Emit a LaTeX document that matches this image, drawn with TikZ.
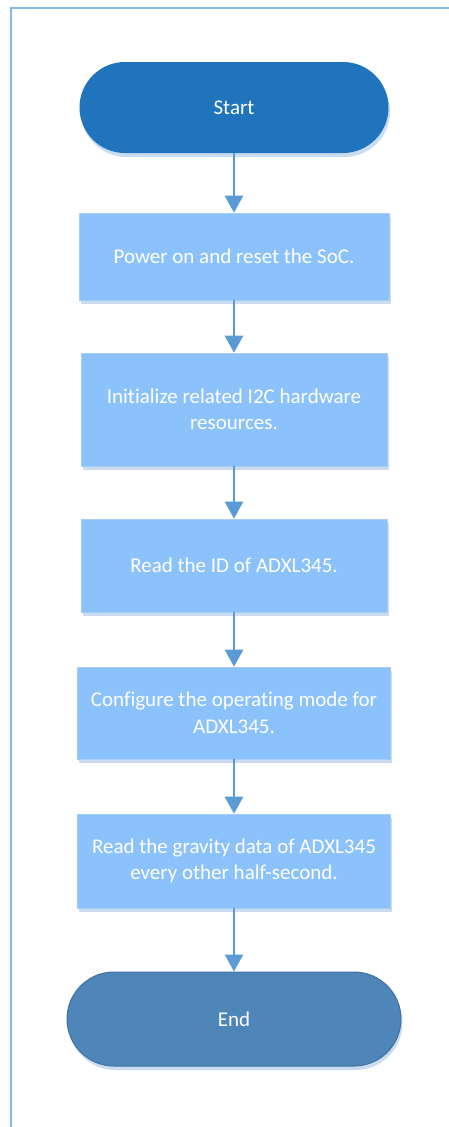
\documentclass[tikz,border=0pt]{standalone}
\usepackage{fontspec}
\setmainfont{Carlito}[Ligatures={NoCommon}]
\usetikzlibrary{arrows.meta,shapes.misc,shadows}
\definecolor{framec}{HTML}{84B9E0}
\definecolor{startc}{HTML}{1F74BC}
\definecolor{endc}{HTML}{4E86BA}
\definecolor{endline}{HTML}{41719C}
\definecolor{boxc}{HTML}{8BC2FB}
\definecolor{boxline}{HTML}{A9CDF0}
\definecolor{shadowc}{HTML}{C9DCF1}
\definecolor{arrowc}{HTML}{5B9BD5}
\tikzset{
  base/.style={inner sep=0pt, text=white, align=center,
    font=\fontsize{21}{26.5}\selectfont,
    drop shadow={shadow xshift=1.5pt, shadow yshift=-4pt, fill=shadowc, opacity=1}},
  term/.style={base, rounded rectangle, rounded rectangle arc length=180},
  stepbox/.style={base, rectangle, fill=boxc, draw=boxline, line width=0.6pt},
  flow/.style={draw=arrowc, line width=2.5pt, -{Triangle[width=18pt,length=17pt]}}
}
\begin{document}
\begin{tikzpicture}[x=1pt,y=-1pt]
\useasboundingbox (0,0) rectangle (449,1127);
\fill[white] (0,0) rectangle (449,1127);
\draw[framec, line width=2pt] (10.5,1140) -- (10.5,7.5) -- (460,7.5);
\node[term, fill=startc, minimum width=309pt, minimum height=91pt] (start) at (234,107.5) {Start};
\node[stepbox, minimum width=310pt, minimum height=87pt] (b1) at (234,256.5) {Power on and reset the SoC.};
\node[stepbox, minimum width=306pt, minimum height=113pt] (b2) at (234,409.5) {Initialize related I2C hardware\\resources.};
\node[stepbox, minimum width=306pt, minimum height=93pt] (b3) at (234,565.5) {Read the ID of ADXL345.};
\node[stepbox, minimum width=313pt, minimum height=92pt] (b4) at (234,713) {Configure the operating mode for\\ADXL345.};
\node[stepbox, minimum width=313pt, minimum height=94pt] (b5) at (234,861) {Read the gravity data of ADXL345\\every other half-second.};
\node[term, fill=endc, draw=endline, line width=1pt, minimum width=334pt, minimum height=94pt] (end) at (234,1019) {End};
\draw[flow] (start.south) -- (b1.north);
\draw[flow] (b1.south) -- (b2.north);
\draw[flow] (b2.south) -- (b3.north);
\draw[flow] (b3.south) -- (b4.north);
\draw[flow] (b4.south) -- (b5.north);
\draw[flow] (b5.south) -- (end.north);
\end{tikzpicture}
\end{document}
